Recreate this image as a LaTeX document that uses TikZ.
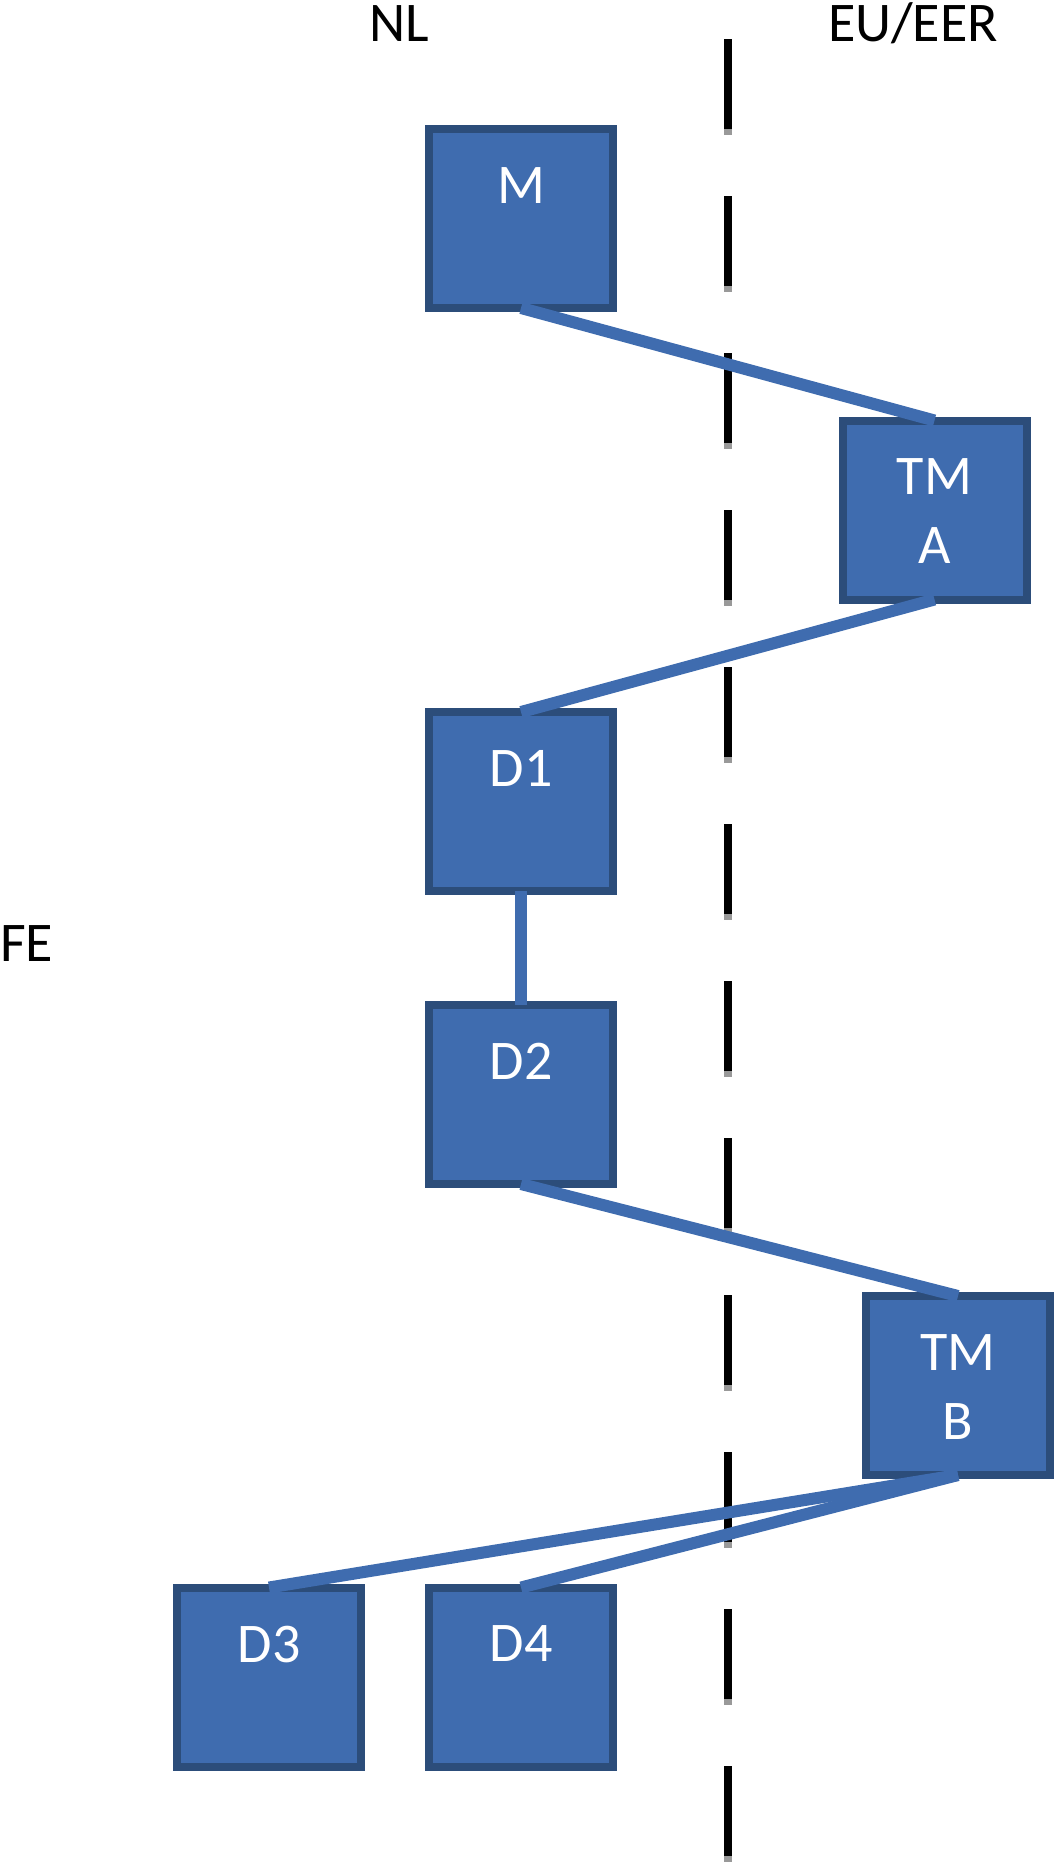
\documentclass[tikz,border=0pt]{standalone}
\usepackage{fontspec}
\setmainfont{Carlito}
\usepackage{xcolor}
\usepackage{tikz}
\usetikzlibrary{positioning}
\definecolor{boxfill}{HTML}{3F6CAF}
\definecolor{boxline}{HTML}{2C4D7A}

\begin{document}
\begin{tikzpicture}[x=1pt, y=-1pt,
  font=\fontsize{56}{69}\selectfont,
  blk/.style={rectangle, draw=boxline, fill=boxfill, line width=8pt,
    minimum width=184pt, minimum height=179pt, inner sep=0pt, outer sep=0pt},
  lbl/.style={text=white, align=center, inner sep=0pt},
  con/.style={draw=boxfill, line width=12pt},
  hdr/.style={inner sep=0pt, anchor=base}]
\useasboundingbox (0,0) rectangle (1054,1863);
% ---- border line between NL and EU/EER ----
\coordinate (bt) at (728,39);
\coordinate (bb) at (728,1863);
\draw[line width=8pt, dash pattern=on 90pt off 67pt] (bt) -- (bb);
\draw[black!40, line width=8pt, dash pattern=on 6pt off 151pt, dash phase=67pt] (bt) -- (bb);
% ---- headings ----
\node[hdr] (nl) at (399,41) {NL};
\node[hdr] (eu) at (913,41) {EU/EER};
\node[hdr, anchor=base west] (fe) at (0,961) {FE};
% ---- boxes ----
\node[blk] (m)   at (521,218.5)  {};
\node[blk] (tma) at (934.5,510)  {};
\node[blk] (d1)  at (521,801.5)  {};
\node[blk] (d2)  at (521,1094.5) {};
\node[blk] (tmb) at (958,1385.5) {};
\node[blk] (d3)  at (269,1677)   {};
\node[blk] (d4)  at (521,1677)   {};
\foreach \b/\t in {m/M, tma/{TM\\A}, d1/D1, d2/D2, tmb/{TM\\B}, d3/D3, d4/D4}
  \node[lbl, below=38pt of \b.north] (\b-l) {\t};
% ---- links ----
\draw[con] (m.south) -- (tma.north);
\draw[con] (tma.south) -- (d1.north);
\draw[con] (d1.south) -- (d2.north);
\draw[con] (d2.south) -- (tmb.north);
\draw[con] (tmb.south) -- (d3.north);
\draw[con] (tmb.south) -- (d4.north);
\end{tikzpicture}
\end{document}
